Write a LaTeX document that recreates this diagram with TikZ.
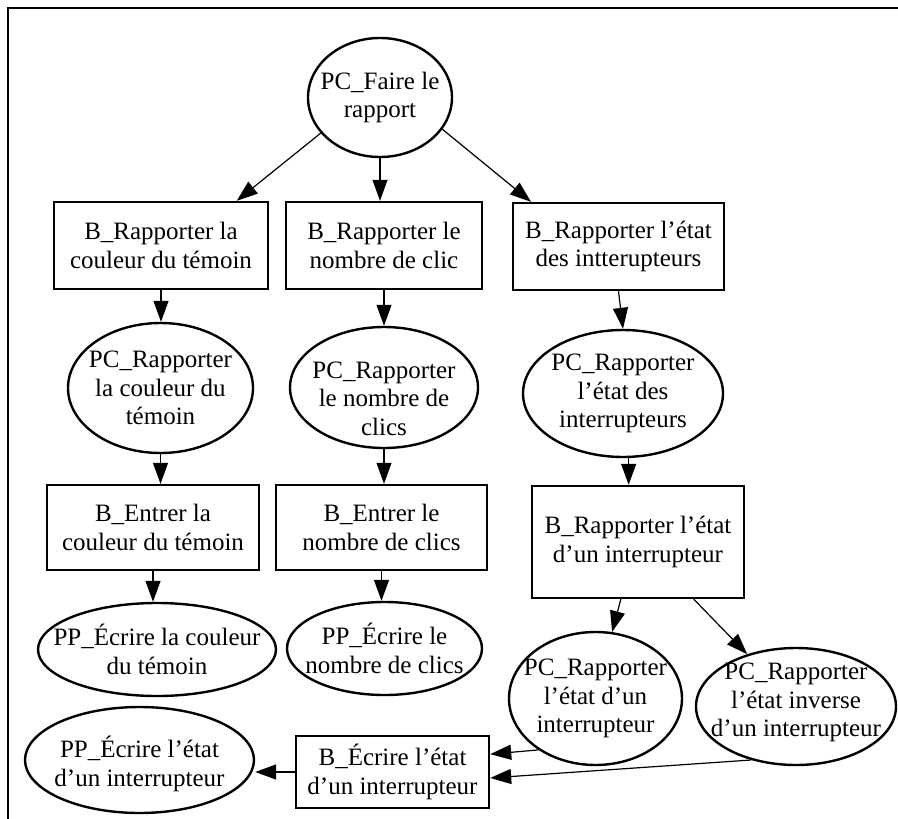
\documentclass[tikz,border=0pt]{standalone}
\usepackage{fontspec}
\setmainfont{Liberation Serif}
\usetikzlibrary{shapes.geometric,arrows.meta,calc}

\begin{document}
\begin{tikzpicture}[x=1pt,y=-1pt,
  txt/.style={font=\fontsize{25}{28.5}\selectfont, align=center, inner sep=0pt},
  oval/.style={ellipse, draw, line width=2.4pt, inner sep=0pt},
  box/.style={txt, rectangle, draw, line width=2.4pt},
  link/.style={line width=1.2pt, -{Triangle[length=21pt,width=15pt]}},
  frame/.style={line width=2.8pt}
]
\useasboundingbox (0,0) rectangle (898,819);

% page frame (top and left edges)
\draw[frame] (8,819) -- (8,8) -- (898,8);

% root
\node[oval, minimum width=144pt, minimum height=119pt,
      label={[txt]center:PC\_Faire le\\rapport}] (e0) at (380,97.5) {};

% first level behaviours
\node[box, minimum width=214pt, minimum height=87pt] (b1) at (161,245.5)
  {B\_Rapporter la\\couleur du témoin};
\node[box, minimum width=196pt, minimum height=87pt] (b2) at (384,245.5)
  {B\_Rapporter le\\nombre de clic};
\node[box, minimum width=211pt, minimum height=87pt] (b3) at (618.5,246.5)
  {B\_Rapporter l’état\\des intterupteurs};

% second level
\node[oval, minimum width=185pt, minimum height=130pt,
      label={[txt]center:PC\_Rapporter\\la couleur du\\témoin}] (e1) at (160.5,388) {};
\node[oval, minimum width=188pt, minimum height=121pt,
      label={[txt, yshift=-11pt]center:PC\_Rapporter\\le nombre de\\clics}] (e2) at (384,387.5) {};
\node[oval, minimum width=200pt, minimum height=127pt,
      label={[txt]center:PC\_Rapporter\\l’état des\\interrupteurs}] (e3) at (623,393.5) {};

% third level
\node[box, minimum width=212pt, minimum height=85pt] (b4) at (153,527.5)
  {B\_Entrer la\\couleur du témoin};
\node[box, minimum width=211pt, minimum height=85pt] (b5) at (381.5,527.5)
  {B\_Entrer le\\nombre de clics};
\node[box, minimum width=212pt, minimum height=112pt] (b6) at (638,542)
  {B\_Rapporter l’état\\d’un interrupteur};

% leaves
\node[oval, minimum width=238pt, minimum height=93pt,
      label={[txt]center:PP\_Écrire la couleur\\du témoin}] (e7) at (157,649.5) {};
\node[oval, minimum width=195pt, minimum height=93pt,
      label={[txt]center:PP\_Écrire le\\nombre de clics}] (e8) at (384.5,648.5) {};
\node[oval, minimum width=173pt, minimum height=133pt,
      label={[txt]center:PC\_Rapporter\\l’état d’un\\interrupteur}] (e9) at (595.5,698.5) {};
\node[oval, minimum width=200pt, minimum height=117pt,
      label={[txt, yshift=4pt]center:PC\_Rapporter\\l’état inverse\\d’un interrupteur}] (e10) at (796,706.5) {};

% writing the switch state
\node[box, minimum width=193pt, minimum height=72pt] (b11) at (392.5,772)
  {B\_Écrire l’état\\d’un interrupteur};
\node[oval, minimum width=229pt, minimum height=106pt,
      label={[txt, yshift=-4pt]center:PP\_Écrire l’état\\d’un interrupteur}] (e12) at (139.5,760) {};

% connectors
\draw[link] (e0.211) -- ($(b1.north west)!0.85!(b1.north east)$);
\draw[link] (e0.south) -- (e0.south |- b2.north);
\draw[link] (e0.333) -- ($(b3.north west)!0.09!(b3.north east)$);

\draw[link] (b1.south) -- (b1.south |- e1.north);
\draw[link] (b2.south) -- (b2.south |- e2.north);
\draw[link] (b3.south) -- (e3.north);

\draw[link] (e1.south) -- (e1.south |- b4.north);
\draw[link] (e2.south) -- (e2.south |- b5.north);
\draw[link] (e3.-85) -- (e3.-85 |- b6.north);

\draw[link] (b4.south) -- (b4.south |- e7.north);
\draw[link] (b5.south) -- (b5.south |- e8.north);
\draw[link] ($(b6.south west)!0.42!(b6.south east)$) -- (e9.76);
\draw[link] ($(b6.south west)!0.76!(b6.south east)$) -- (e10.133);

\draw[link] (e9.222) -- ($(b11.north east)!0.26!(b11.south east)$);
\draw[link] (e10.230) -- ($(b11.north east)!0.58!(b11.south east)$);
\draw[link] (b11.west) -- (b11.west -| e12.east);
\end{tikzpicture}
\end{document}
